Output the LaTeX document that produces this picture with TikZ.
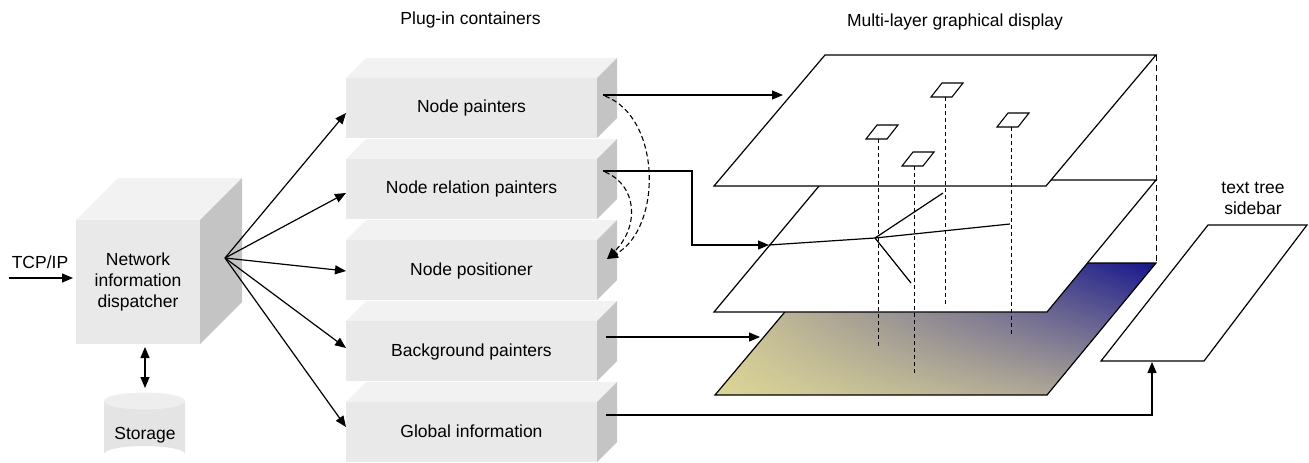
\documentclass[tikz,border=0pt]{standalone}
\usepackage{fontspec}
\setmainfont{Liberation Sans}
\usetikzlibrary{arrows.meta,shadings}
\definecolor{frontc}{RGB}{233,233,233}
\definecolor{topc}{RGB}{242,242,242}
\definecolor{sidec}{RGB}{196,196,196}
\definecolor{cylc}{RGB}{228,228,228}
\definecolor{cyltop}{RGB}{238,238,238}
\definecolor{gLL}{RGB}{220,214,150}
\definecolor{gUL}{RGB}{200,190,150}
\definecolor{gLR}{RGB}{162,154,150}
\definecolor{gUR}{RGB}{22,22,140}
\newcommand\slab[5]{%
  \fill[topc] (#1,#2) -- (#1+#5,#2-#5) -- (#3+#5,#2-#5) -- (#3,#2) -- cycle;
  \fill[sidec] (#3,#2) -- (#3+#5,#2-#5) -- (#3+#5,#4-#5) -- (#3,#4) -- cycle;
  \fill[frontc] (#1,#2) rectangle (#3,#4);
}
\newcommand\chip[2]{%
  \draw[line width=1.1pt,fill=white] (#1,#2) -- (#1+11,#2-14) -- (#1+32,#2-14) -- (#1+21,#2) -- cycle;
}
\begin{document}
\begin{tikzpicture}[x=1pt,y=-1pt,
  lbl/.style={font=\fontsize{17.5}{21}\selectfont, align=center, inner sep=0pt},
  arr/.style={-{Triangle[length=11pt,width=9pt]}, line width=1.2pt},
  darr/.style={{Triangle[length=11pt,width=9pt]}-{Triangle[length=11pt,width=9pt]}, line width=1.2pt},
  plane/.style={draw, fill=white, line width=1.2pt, line join=miter},
  fine/.style={line width=0.9pt, dash pattern=on 4pt off 3pt},
  coarse/.style={line width=0.9pt, dash pattern=on 6pt off 4pt},
  curved/.style={line width=1.1pt, dash pattern=on 5pt off 3pt, -{Triangle[length=11pt,width=9pt]}},
  tree/.style={line width=1.2pt}]
\useasboundingbox (0,0) rectangle (1309,463);

% ---------- dispatcher cube ----------
\slab{76}{220}{200}{344}{42}
\node[lbl] (disp) at (138,282) {Network\\information\\dispatcher};
\node[lbl] (tcp) at (40,262) {TCP/IP};
\coordinate (tcpin) at (9,278);
\coordinate (dispw) at (73,278);
\draw[arr] (tcpin) -- (dispw);

% ---------- storage ----------
\fill[cylc] (104,401) -- (104,454) arc[start angle=180, end angle=360, x radius=40.5, y radius=8] -- (185,401) -- cycle;
\fill[cyltop] (144.5,401) ellipse [x radius=40.5, y radius=8.5];
\node[lbl] (stor) at (145,435) {Storage};
\coordinate (disps) at (145,347);
\coordinate (storn) at (145,388);
\draw[darr] (disps) -- (storn);

% ---------- plug-in containers ----------
\node[lbl] (plugt) at (470.5,20) {Plug-in containers};
\slab{346}{402}{597}{462}{20}
\slab{346}{321}{597}{381}{20}
\slab{346}{240}{597}{300}{20}
\slab{346}{159}{597}{219}{20}
\slab{346}{78}{597}{138}{20}
\node[lbl] (np) at (471.5,108) {Node painters};
\node[lbl] (nrp) at (471.5,189) {Node relation painters};
\node[lbl] (npos) at (471.5,271) {Node positioner};
\node[lbl] (bgp) at (471.5,352) {Background painters};
\node[lbl] (gi) at (471.5,431) {Global information};

\coordinate (hub) at (225,258);
\coordinate (b1w) at (346,113);
\coordinate (b2w) at (346,193);
\coordinate (b3w) at (346,271);
\coordinate (b4w) at (346,348);
\coordinate (b5w) at (346,427);
\foreach \b in {b1w,b2w,b3w,b4w,b5w} \draw[arr] (hub) -- (\b);

% ---------- display planes ----------
\node[lbl] (mlt) at (955,22) {Multi-layer graphical display};
\begin{scope}
  \clip (715,395) -- (1047,395) -- (1156,263) -- (826,263) -- cycle;
  \shade[upper left=gUL, upper right=gUR, lower left=gLL, lower right=gLR] (715,263) rectangle (1156,395);
\end{scope}
\draw[line width=1.2pt] (715,395) -- (1047,395) -- (1156,263) -- (826,263) -- cycle;
\draw[plane] (714,312) -- (1047,312) -- (1156,180) -- (824,180) -- cycle;
\draw[plane] (714,186) -- (1046,186) -- (1156,55) -- (825,55) -- cycle;

% tree on middle layer
\coordinate (tin) at (769,245);
\coordinate (tc) at (875,238);
\coordinate (t1) at (1010,224);
\coordinate (t2) at (943,193);
\coordinate (t3) at (911,283);
\draw[tree] (tin) -- (tc) -- (t1);
\draw[tree] (tc) -- (t2);
\draw[tree] (tc) -- (t3);

% chips on top layer
\chip{866}{139}
\chip{902}{166}
\chip{931}{97}
\chip{997}{127}
\coordinate (ca) at (878,139); \coordinate (cab) at (878,347);
\coordinate (cb) at (914,166); \coordinate (cbb) at (914,373);
\coordinate (cc) at (945,97);  \coordinate (ccb) at (945,307);
\coordinate (cd) at (1011,127); \coordinate (cdb) at (1011,335);
\draw[fine] (ca) -- (cab);
\draw[fine] (cb) -- (cbb);
\draw[fine] (cc) -- (ccb);
\draw[fine] (cd) -- (cdb);
\coordinate (rc1) at (1156,55);
\coordinate (rc2) at (1156,180);
\coordinate (rc3) at (1156,263);
\draw[coarse] (rc1) -- (rc2) -- (rc3);

% sidebar
\draw[plane] (1101,361) -- (1204,361) -- (1307,225) -- (1208,225) -- cycle;
\node[lbl] (sbt) at (1253,198) {text tree\\sidebar};

% ---------- connectors from containers ----------
\coordinate (o1) at (603,95);   \coordinate (top1) at (783,95);
\coordinate (o2) at (603,171);  \coordinate (k1) at (692,171); \coordinate (k2) at (692,245);
\coordinate (o4) at (606,337);  \coordinate (bgin) at (760,337);
\coordinate (o5) at (606,415);  \coordinate (k3) at (1152,415); \coordinate (sbin) at (1152,362);
\coordinate (d1) at (605,96);   \coordinate (d2) at (605,172); \coordinate (dpos) at (607,259);
\draw[arr] (o1) -- (top1);
\draw[arr] (o2) -- (k1) -- (k2) -- (tin);
\draw[arr] (o4) -- (bgin);
\draw[arr] (o5) -- (k3) -- (sbin);
\draw[curved] (d1) .. controls (662,118) and (662,228) .. (dpos);
\draw[curved] (d2) .. controls (637,185) and (640,226) .. (dpos);
\end{tikzpicture}
\end{document}
